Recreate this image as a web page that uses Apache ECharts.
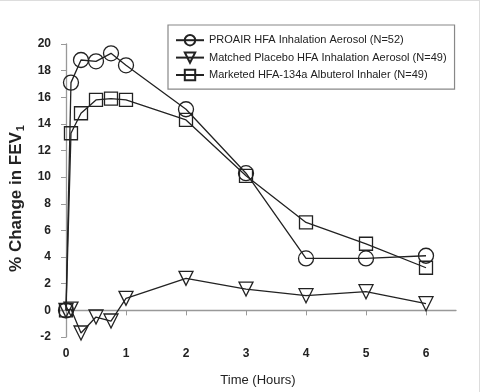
<!DOCTYPE html>
<html><head><meta charset="utf-8">
<script src="https://cdn.jsdelivr.net/npm/echarts@6/dist/echarts.min.js"></script>
<style>html,body{margin:0;padding:0;background:#fff}#c{width:480px;height:392px;box-sizing:border-box;border-top:1px solid #ddd;border-right:1px solid #ddd}</style>
</head><body><div id="c"></div>
<script>
const hours = [0, 0.083, 0.25, 0.5, 0.75, 1, 2, 3, 4, 5, 6];
const proair = [0, 17.1, 18.8, 18.7, 19.3, 18.4, 15.1, 10.3, 3.9, 3.9, 4.1];
const placebo = [0, 0.1, -1.7, -0.5, -0.8, 0.9, 2.4, 1.6, 1.1, 1.4, 0.5];
const marketed = [0, 13.3, 14.8, 15.8, 15.9, 15.8, 14.3, 10.1, 6.6, 5.0, 3.2];
const names = ['PROAIR HFA Inhalation Aerosol (N=52)', 'Matched Placebo HFA Inhalation Aerosol (N=49)', 'Marketed HFA-134a Albuterol Inhaler (N=49)'];
const yTicks = [-2, 0, 2, 4, 6, 8, 10, 12, 14, 16, 18, 20];
const xTicks = [0, 1, 2, 3, 4, 5, 6];

const pairs = arr => hours.map((h, i) => [h, arr[i]]);
const ser = (name, arr, symbol, size, rot) => ({
  name, type: 'line', data: pairs(arr), symbol, symbolSize: size, symbolRotate: rot || 0,
  lineStyle: {color: '#222', width: 1.3}, itemStyle: {color: 'rgba(255,255,255,0)', borderColor: '#222', borderWidth: 1.3},
  emphasis: {disabled: true}, z: 3
});
const chart = echarts.init(document.getElementById('c'));
chart.setOption({
  animation: false,
  grid: {left: 60, right: 23, top: 43, bottom: 54},
  legend: {
    left: 168, top: 24, width: 284, orient: 'vertical', itemGap: 5, itemWidth: 28, itemHeight: 13,
    padding: [9, 8, 8, 7], borderColor: '#888', borderWidth: 1.2,
    textStyle: {fontFamily: 'Liberation Sans', fontSize: 11, color: '#222'},
    data: names
  },
  xAxis: {
    type: 'value', min: -0.1, max: 6.5, interval: 1,
    axisLine: {show: true, lineStyle: {color: '#999', width: 1.3}},
    axisTick: {show: true, customValues: xTicks, length: 5, lineStyle: {color: '#999'}},
    axisLabel: {customValues: xTicks, fontFamily: 'Liberation Sans', fontWeight: 'bold', fontSize: 12, color: '#222', margin: 11},
    splitLine: {show: false},
    name: 'Time (Hours)', nameLocation: 'middle', nameGap: 37,
    nameTextStyle: {fontFamily: 'Liberation Sans', fontSize: 13, color: '#222'}
  },
  yAxis: {
    type: 'value', min: -2, max: 20, interval: 2,
    axisLine: {show: true, lineStyle: {color: '#999', width: 1.3}},
    axisTick: {show: true, length: 5, lineStyle: {color: '#999'}},
    axisLabel: {customValues: yTicks, fontFamily: 'Liberation Sans', fontWeight: 'bold', fontSize: 12, color: '#222', margin: 9},
    splitLine: {show: false},
    name: '{m|% Change in FEV}{s|1}', nameLocation: 'middle', nameGap: 33,
    nameTextStyle: {
      padding: [0, 16, 0, 0],
      rich: {
        m: {fontFamily: 'Liberation Sans', fontWeight: 'bold', fontSize: 17, color: '#222'},
        s: {fontFamily: 'Liberation Sans', fontWeight: 'bold', fontSize: 11, color: '#222', padding: [9, 0, 0, 1]}
      }
    }
  },
  series: [
    ser(names[0], proair, 'circle', 15),
    ser(names[1], placebo, 'triangle', 14, 180),
    ser(names[2], marketed, 'rect', 13)
  ]
});
</script></body></html>
